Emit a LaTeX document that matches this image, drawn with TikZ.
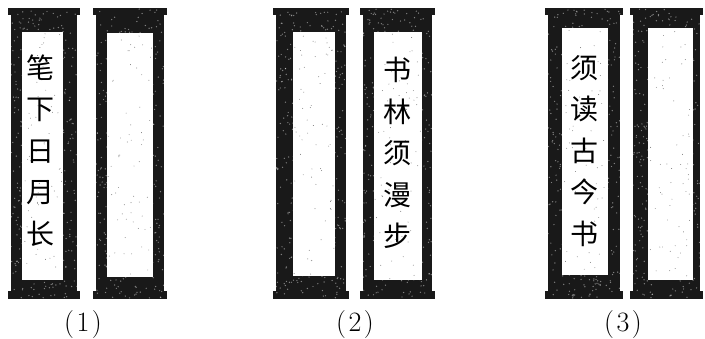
\documentclass[tikz,border=0pt]{standalone}
\usepackage{fontspec}
\newfontfamily\cjk{Noto Sans CJK SC}
\newcommand\drawscrollbox[7]{%
  \fill[black!90] (#2-3,8) rectangle (#3+3,15);
  \fill[black!90] (#2,15) rectangle (#3,291);
  \fill[black!90] (#2-3,291) rectangle (#3+3,299);
  \foreach \k in {1,...,420}{%
    \pgfmathsetmacro\px{#2+rnd*(#3-#2)}%
    \pgfmathsetmacro\py{9+rnd*289}%
    \fill[white,opacity=.45] (\px,\py) circle (0.7);}
  \node[panel, minimum width={(#5-#4)*1pt}, minimum height={(#7-#6)*1pt}] (#1) at ({(#4+#5)/2},{(#6+#7)/2}) {};
  \foreach \k in {1,...,60}{%
    \pgfmathsetmacro\px{#4+1+rnd*(#5-#4-2)}%
    \pgfmathsetmacro\py{#6+1+rnd*(#7-#6-2)}%
    \fill[black!55] (\px,\py) circle (0.45);}
}
\newcommand\capnum[1]{(\kern2.5pt#1\kern2.5pt)}
\begin{document}
\begin{tikzpicture}[x=1pt,y=-1pt,
  panel/.style={fill=white,draw=none,inner sep=0pt,outer sep=0pt},
  verse/.style={font=\cjk\fontsize{28}{41.5}\selectfont,align=center,inner sep=0pt},
  caption/.style={font=\rmfamily\fontsize{28}{28}\selectfont,inner sep=0pt}]
\useasboundingbox (0,0) rectangle (705,338);
\pgfmathsetseed{7}
\drawscrollbox{pA}{11}{77}{22}{63}{32}{280}
\drawscrollbox{pB}{96}{164}{107}{153}{33}{277}
\drawscrollbox{pC}{276}{346}{293}{335}{32}{276}
\drawscrollbox{pD}{363}{432}{374}{422}{32}{280}
\drawscrollbox{pE}{548}{620}{562}{608}{28}{275}
\drawscrollbox{pF}{633}{700}{648}{693}{28}{280}
\node[verse] (tA) at (41,150.5) {笔\\下\\日\\月\\长};
\node[verse] (tD) at (397,153) {书\\林\\须\\漫\\步};
\node[verse] (tE) at (584,151) {须\\读\\古\\今\\书};
\node[caption] (c1) at (83,325) {\capnum{1}};
\node[caption] (c2) at (355,325) {\capnum{2}};
\node[caption] (c3) at (623,325) {\capnum{3}};
\end{tikzpicture}
\end{document}
